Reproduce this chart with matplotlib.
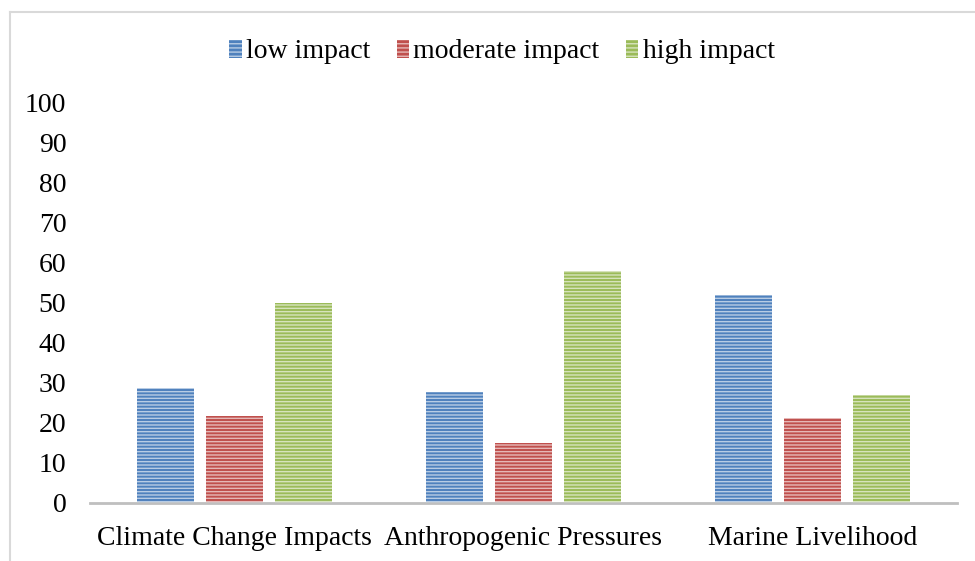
import matplotlib
matplotlib.use("Agg")
import matplotlib.pyplot as plt
import numpy as np
from matplotlib.lines import Line2D
from matplotlib.patches import Patch

categories = ["Climate Change Impacts", "Anthropogenic Pressures", "Marine Livelihood"]
series_names = ["low impact", "moderate impact", "high impact"]
low_impact = [28.7, 27.7, 51.9]
moderate_impact = [21.8, 15.0, 21.3]
high_impact = [49.9, 57.9, 26.9]
yticks = [0, 10, 20, 30, 40, 50, 60, 70, 80, 90, 100]

colors = ["#4f81bd", "#c0504d", "#9bbb59"]

plt.rcParams["font.family"] = ["Liberation Serif", "DejaVu Serif"]
plt.rcParams["hatch.linewidth"] = 1.0

fig = plt.figure(figsize=(9.75, 5.61), dpi=100)
ax = fig.add_axes([90/975, 1 - 503/561, 867/975, 401/561])

x = np.arange(len(categories))
width = 0.197
offsets = [-0.24, 0, 0.24]
for vals, off, c in zip([low_impact, moderate_impact, high_impact], offsets, colors):
    ax.bar(x + off, vals, width, color=c, linewidth=0, zorder=2)
    ax.bar(x + off, vals, width, facecolor="none", edgecolor=(1, 1, 1, 0.6),
           hatch="-----", linewidth=0, zorder=3)

ax.set_xlim(-0.5, 2.5)
ax.set_ylim(0, 100)
ax.set_yticks(yticks)
ax.set_yticklabels([str(v) for v in yticks])
ax.set_xticks(x)
ax.set_xticklabels(categories)
for s in ["top", "right", "left"]:
    ax.spines[s].set_visible(False)
ax.spines["bottom"].set_color("#bfbfbf")
ax.spines["bottom"].set_linewidth(2.0)
ax.tick_params(axis="both", length=0, labelsize=20)
ax.tick_params(axis="y", pad=17)
ax.tick_params(axis="x", pad=16.5)

handles = [Patch(facecolor=c, edgecolor=(1, 1, 1, 0.6), hatch="----", linewidth=0)
           for c in colors]
fig.legend(handles, series_names, loc="center", bbox_to_anchor=(502/975, 1 - 52/561),
           ncol=3, frameon=False, fontsize=20, handlelength=0.45, handleheight=0.6,
           handletextpad=0.15, columnspacing=0.95)

fig.add_artist(Line2D([9.5/975, 9.5/975], [0, 1 - 12/561], transform=fig.transFigure,
                      color="#d9d9d9", linewidth=1.5))
fig.add_artist(Line2D([9.5/975, 1], [1 - 12/561, 1 - 12/561], transform=fig.transFigure,
                      color="#d9d9d9", linewidth=1.5))

fig.savefig("out.png", dpi=100)
